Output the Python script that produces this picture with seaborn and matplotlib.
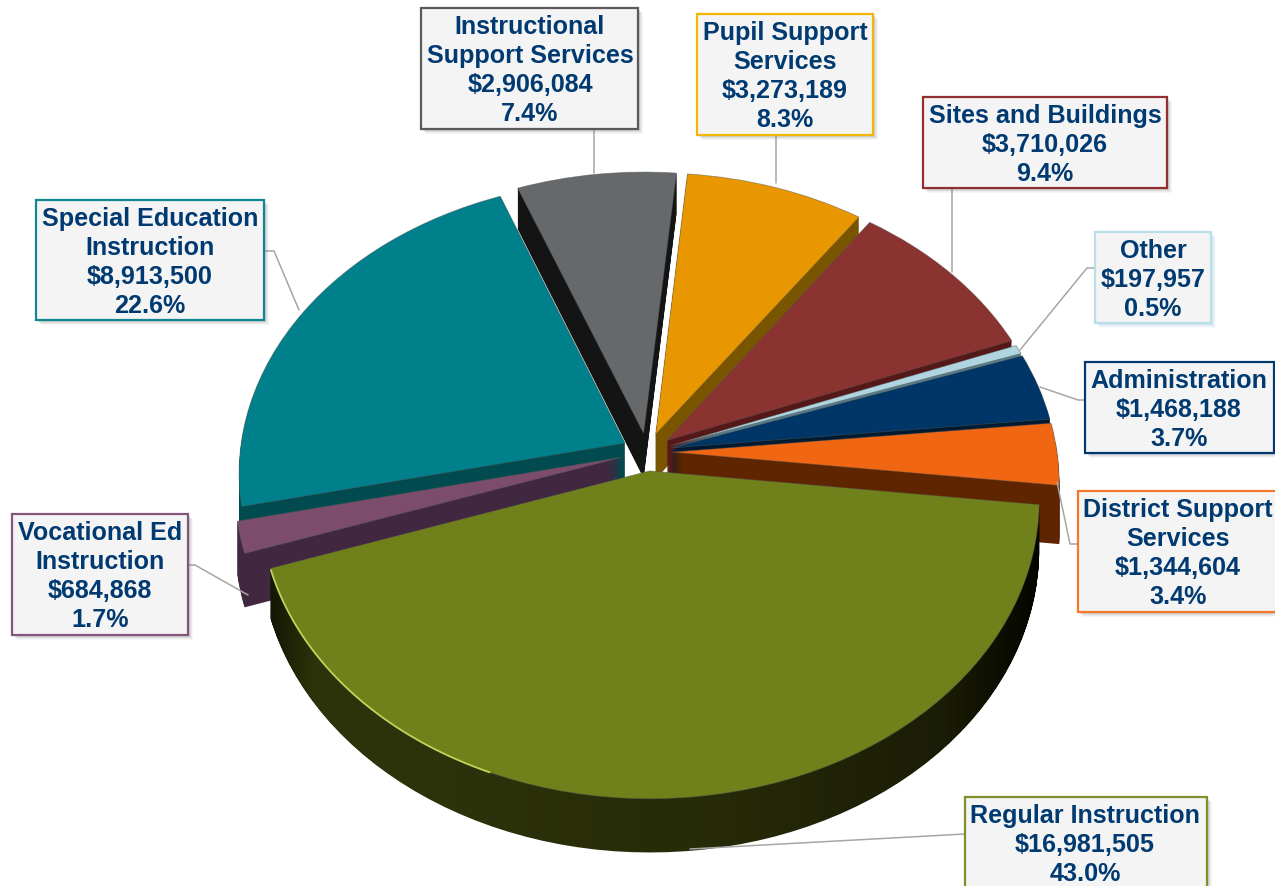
import matplotlib
matplotlib.use("Agg")
import matplotlib.pyplot as plt
import numpy as np
import seaborn as sns
from matplotlib.colors import LinearSegmentedColormap
from matplotlib.patches import PathPatch, Rectangle
from matplotlib.path import Path
from matplotlib.transforms import Transform

# Slices, clockwise from the front one
categories = ["Regular Instruction", "Vocational Ed\nInstruction", "Special Education\nInstruction",
              "Instructional\nSupport Services", "Pupil Support\nServices", "Sites and Buildings",
              "Other", "Administration", "District Support\nServices"]
amounts = [16981505, 684868, 8913500, 2906084, 3273189, 3710026, 197957, 1468188, 1344604]
percents = ["43.0%", "1.7%", "22.6%", "7.4%", "8.3%", "9.4%", "0.5%", "3.7%", "3.4%"]

top_colors = ["#70811b", "#7b4d6b", "#00808a", "#65696b", "#e99700", "#8a3330", "#b0d5e0", "#003667", "#f06612"]
wall_colors = ["#262a08", "#412840", "#004a50", "#141414", "#7a5500", "#551818", "#5a7d88", "#001a30", "#5e2500"]
border_colors = ["#7f8f2a", "#85567a", "#12868f", "#5a5a5a", "#f2b705", "#93302f", "#b9dfe9", "#003a70", "#f5772a"]

# back to front
draw_rank = [8, 7, 6, 0, 1, 2, 3, 4, 5]
wall_depth = [48, 52, 40, 45, 45, 45, 45, 45, 58]

WIDTH, HEIGHT = 1275, 886
CX, CY, RX, RY, TILT = 647, 452, 385, 291, 0.1

# x0, y0, x1, y1 of each label box in pixels
boxes = [(965, 797, 1207, 900), (12, 514, 188, 635), (36, 200, 264, 320),
         (421, 8, 638, 129), (697, 14, 873, 135), (923, 97, 1167, 188),
         (1095, 232, 1211, 323), (1085, 362, 1274, 453), (1078, 491, 1278, 612)]
text_centers = [1085, 100, 150, 530, 785, 1045, 1153, 1179, 1178]
leaders = [[(965, 834), (690, 849)], [(188, 565), (195, 565), (248, 595)], [(264, 251), (274, 251), (299, 310)],
           [(594, 129), (594, 173)], [(776, 135), (776, 183)], [(952, 188), (952, 272)],
           [(1095, 268), (1087, 268), (1020, 350)], [(1085, 400), (1078, 400), (1040, 387)],
           [(1078, 544), (1070, 544), (1057, 482)]]


class Tilted(Transform):
    """Pie coordinates to pixels, with a simple perspective and a drop for the side walls."""
    input_dims = 2
    output_dims = 2

    def __init__(self, drop=0):
        super().__init__()
        self.drop = drop

    def transform_non_affine(self, values):
        uv = np.asarray(values)
        scale = 1 / (1 + TILT * uv[:, 1])
        x = CX + RX * uv[:, 0] * scale
        y = CY - (RY * uv[:, 1] - self.drop) * scale
        return np.column_stack([x, y])


sns.set_theme(style="white")
plt.rcParams['font.family'] = ['Liberation Sans', 'DejaVu Sans']

fig = plt.figure(figsize=(WIDTH / 100, HEIGHT / 100), dpi=100)
ax = fig.add_axes([0, 0, 1, 1])

explode = [0.065] * len(amounts)
pie_args = dict(explode=explode, startangle=-6.5, counterclock=False, radius=1)

# extruded sides: the same pie repeated one pixel lower each time
regular_paths = []
for d in range(1, max(wall_depth) + 1):
    tilt = Tilted(d)
    wedges, _ = ax.pie(amounts, colors=wall_colors, wedgeprops=dict(linewidth=0), **pie_args)
    for i, w in enumerate(wedges):
        w.set_transform(tilt + ax.transData)
        w.set_zorder(draw_rank[i] * 100 + 50 - d * 0.1)
        w.set_visible(d <= wall_depth[i])
        if i == 0:
            w.set_visible(False)
            if d <= wall_depth[0]:
                regular_paths.append(tilt.transform_path(w.get_path()))

tops, _ = ax.pie(amounts, colors=sns.color_palette(top_colors),
                 wedgeprops=dict(linewidth=0.6, edgecolor="#55555580"), **pie_args)
for i, w in enumerate(tops):
    w.set_transform(Tilted() + ax.transData)
    w.set_zorder(draw_rank[i] * 100 + 60)

# front wall of the big slice gets a dark gradient
wall_cmap = LinearSegmentedColormap.from_list("wall", [
    (0.0, "#111403"), (0.06, "#2c320a"), (0.2, "#2d330b"), (0.6, "#262a08"), (0.88, "#1a1c05"), (1.0, "#050500")])
shade = np.linspace(0, 1, 256)[None, :]
img = ax.imshow(shade, cmap=wall_cmap, aspect='auto', zorder=draw_rank[0] * 100 + 50,
                extent=(265, 1040, 860, 480))
img.set_clip_path(PathPatch(Path.make_compound_path(*regular_paths), transform=ax.transData))

# thin light rim on the lower left of the big slice
big = tops[0]
rim = np.radians(np.linspace(-161, -112, 80))
ax.plot(big.center[0] + np.cos(rim), big.center[1] + np.sin(rim), color="#c4d25a", lw=1.3,
        transform=Tilted() + ax.transData, zorder=draw_rank[0] * 100 + 70)

ax.set_aspect('auto')
ax.set_xlim(0, WIDTH)
ax.set_ylim(HEIGHT, 0)
ax.axis('off')

# label layer in pixel coordinates
lay = fig.add_axes([0, 0, 1, 1])
lay.set_xlim(0, WIDTH)
lay.set_ylim(HEIGHT, 0)
lay.axis('off')
lay.patch.set_alpha(0)

for i, (x0, y0, x1, y1) in enumerate(boxes):
    pts = np.array(leaders[i])
    lay.plot(pts[:, 0], pts[:, 1], color="#a6a6a6", lw=1.1, zorder=1)
    for off, alpha in [(7, 0.06), (6, 0.08), (5, 0.1), (4, 0.14)]:
        shadow = "#8fb6cf" if i == 6 else "#707070"
        lay.add_patch(Rectangle((x0 + off - 2, y0 + off - 2), x1 - x0, y1 - y0, facecolor=shadow,
                                edgecolor='none', alpha=alpha, zorder=2))
    lay.add_patch(Rectangle((x0, y0), x1 - x0, y1 - y0, facecolor="#f4f4f5", edgecolor=border_colors[i],
                            lw=1.6, zorder=3))
    lines = categories[i].split("\n") + [f"${amounts[i]:,}", percents[i]]
    for j, line in enumerate(lines):
        lay.text(text_centers[i], y0 + 19 + j * 29, line, ha='center', va='center', fontsize=18.05,
                 fontweight='bold', color="#003a70", zorder=4)

fig.savefig("out.png", dpi=100)
